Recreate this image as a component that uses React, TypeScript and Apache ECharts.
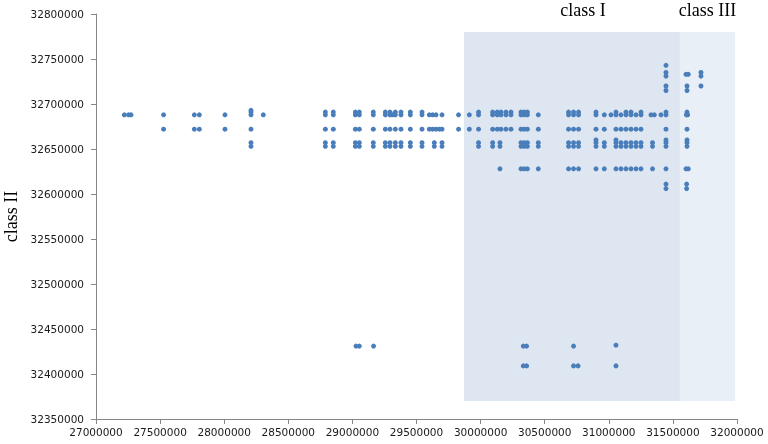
import React, { useEffect, useRef } from "react";
import * as echarts from "echarts";

// Axis ranges
const X_MIN = 27000000;
const X_MAX = 32000000;
const X_STEP = 500000;
const Y_MIN = 32350000;
const Y_MAX = 32800000;
const Y_STEP = 50000;

// Points: x positions on each y row
const xRow32743 = [31446000];
const xRow32735 = [31446000, 31719000];
const xRow32733 = [31602000, 31620000];
const xRow32731 = [31446000, 31719000];
const xRow32720 = [31446000, 31610000, 31719000];
const xRow32715 = [31446000, 31610000];
const xRow32693 = [28209000];
const xRow32691 = [
  28209000, 28789000, 28851000, 29023000, 29054000, 29163000, 29257000, 29293000,
  29335000, 29379000, 29452000, 29543000, 29984000, 30094000, 30130000, 30159000,
  30198000, 30237000, 30315000, 30340000, 30365000, 30686000, 30725000, 30764000,
  30900000, 31056000, 31134000, 31173000, 31251000, 31446000, 31610000,
];
const xRow32688 = [
  27221000, 27254000, 27273000, 27527000, 27767000, 27806000, 28006000, 28209000,
  28305000, 28789000, 28851000, 29023000, 29054000, 29163000, 29257000, 29293000,
  29312000, 29335000, 29379000, 29452000, 29543000, 29600000, 29626000, 29652000,
  29699000, 29828000, 29912000, 29984000, 30094000, 30130000, 30159000, 30198000,
  30237000, 30315000, 30340000, 30365000, 30450000, 30686000, 30725000, 30764000,
  30900000, 30965000, 31017000, 31056000, 31095000, 31134000, 31173000, 31212000,
  31251000, 31329000, 31355000, 31407000, 31446000, 31605000, 31615000,
];
const xRow32672 = [
  27527000, 27767000, 27806000, 28006000, 28209000, 28789000, 28851000, 29023000,
  29054000, 29163000, 29257000, 29293000, 29335000, 29379000, 29452000, 29543000,
  29600000, 29626000, 29652000, 29678000, 29699000, 29828000, 29912000, 29984000,
  30094000, 30130000, 30159000, 30198000, 30237000, 30315000, 30340000, 30365000,
  30450000, 30686000, 30725000, 30764000, 30900000, 30965000, 31056000, 31095000,
  31134000, 31173000, 31212000, 31251000, 31446000, 31610000,
];
const xRow32660 = [30900000, 31056000, 31446000, 31610000];
const xRow32657 = [
  28209000, 28789000, 28851000, 29023000, 29054000, 29163000, 29257000, 29293000,
  29335000, 29379000, 29452000, 29543000, 29639000, 29699000, 29984000, 30094000,
  30151000, 30315000, 30340000, 30365000, 30450000, 30686000, 30725000, 30764000,
  30900000, 30965000, 31056000, 31095000, 31134000, 31173000, 31212000, 31251000,
  31341000, 31446000, 31610000,
];
const xRow32653 = xRow32657.slice();
const xRow32628 = [
  30151000, 30315000, 30340000, 30365000, 30450000, 30686000, 30725000, 30764000,
  30900000, 30965000, 31056000, 31095000, 31134000, 31173000, 31212000, 31251000,
  31341000, 31446000, 31602000, 31620000,
];
const xRow32611 = [31446000, 31607000];
const xRow32606 = [31446000, 31607000];
const xRow32432 = [31056000];
const xRow32431 = [29028000, 29054000, 29165000, 30333000, 30359000, 30725000];
const xRow32409 = [30333000, 30359000, 30725000, 30760000, 31056000];

const rows: [number, number[]][] = [
  [32743000, xRow32743],
  [32735000, xRow32735],
  [32733000, xRow32733],
  [32731000, xRow32731],
  [32720000, xRow32720],
  [32715000, xRow32715],
  [32693000, xRow32693],
  [32691000, xRow32691],
  [32688000, xRow32688],
  [32672000, xRow32672],
  [32660000, xRow32660],
  [32657000, xRow32657],
  [32653000, xRow32653],
  [32628000, xRow32628],
  [32611000, xRow32611],
  [32606000, xRow32606],
  [32432000, xRow32432],
  [32431000, xRow32431],
  [32409000, xRow32409],
];

// Shaded class regions
const areaNames = ["class I", "class III"];
const areaXStart = [29870000, 31555000];
const areaXEnd = [31555000, 31985000];
const areaColors = ["#DEE6F2", "#E9EFF7"];
const areaLabelOffset = [11, 0];
const AREA_Y_BOTTOM = 32370000;
const AREA_Y_TOP = 32780000;

export default function App() {
  const ref = useRef<HTMLDivElement>(null);
  useEffect(() => {
    if (!ref.current) return;
    const chart = echarts.init(ref.current, undefined, { renderer: "svg" });
    const points = rows.flatMap(([y, xs]) => xs.map((x) => [x, y]));
    const axisColor = "#868686";
    const labelStyle = {
      color: "#1a1a1a",
      fontFamily: "DejaVu Sans",
      fontSize: 10.5,
      formatter: (v: number) => String(v),
    };
    chart.setOption({
      animation: false,
      grid: {
        left: 96,
        right: 31,
        top: 14,
        bottom: 25,
        containLabel: false,
        outerBoundsMode: "none",
      },
      xAxis: {
        type: "value",
        min: X_MIN,
        max: X_MAX,
        interval: X_STEP,
        axisLine: { show: true, onZero: false, lineStyle: { color: axisColor } },
        axisTick: { show: true, length: 5, lineStyle: { color: axisColor } },
        axisLabel: { ...labelStyle, margin: 7 },
        splitLine: { show: false },
      },
      yAxis: {
        type: "value",
        min: Y_MIN,
        max: Y_MAX,
        interval: Y_STEP,
        name: "class II",
        nameLocation: "middle",
        nameGap: 76,
        nameTextStyle: { fontFamily: "Liberation Serif", fontSize: 18, color: "#000" },
        axisLine: { show: true, onZero: false, lineStyle: { color: axisColor } },
        axisTick: { show: true, length: 5, lineStyle: { color: axisColor } },
        axisLabel: { ...labelStyle, margin: 12 },
        splitLine: { show: false },
      },
      series: [
        {
          type: "scatter",
          symbolSize: 5,
          itemStyle: { color: "#4A7EBB", opacity: 1 },
          data: points,
          z: 3,
          markArea: {
            silent: true,
            z: 1,
            label: {
              show: true,
              position: "top",
              distance: 13,
              fontFamily: "Liberation Serif",
              fontSize: 18,
              color: "#000",
            },
            data: areaNames.map((name, i) => [
              {
                name,
                xAxis: areaXStart[i],
                yAxis: AREA_Y_TOP,
                itemStyle: { color: areaColors[i], opacity: 1 },
                label: { offset: [areaLabelOffset[i], 0] },
              },
              { xAxis: areaXEnd[i], yAxis: AREA_Y_BOTTOM },
            ]),
          },
        },
      ],
    });
    return () => chart.dispose();
  }, []);
  return (
    <div
      ref={ref}
      style={{ position: "fixed", left: 0, top: 0, width: 768, height: 444 }}
    />
  );
}
